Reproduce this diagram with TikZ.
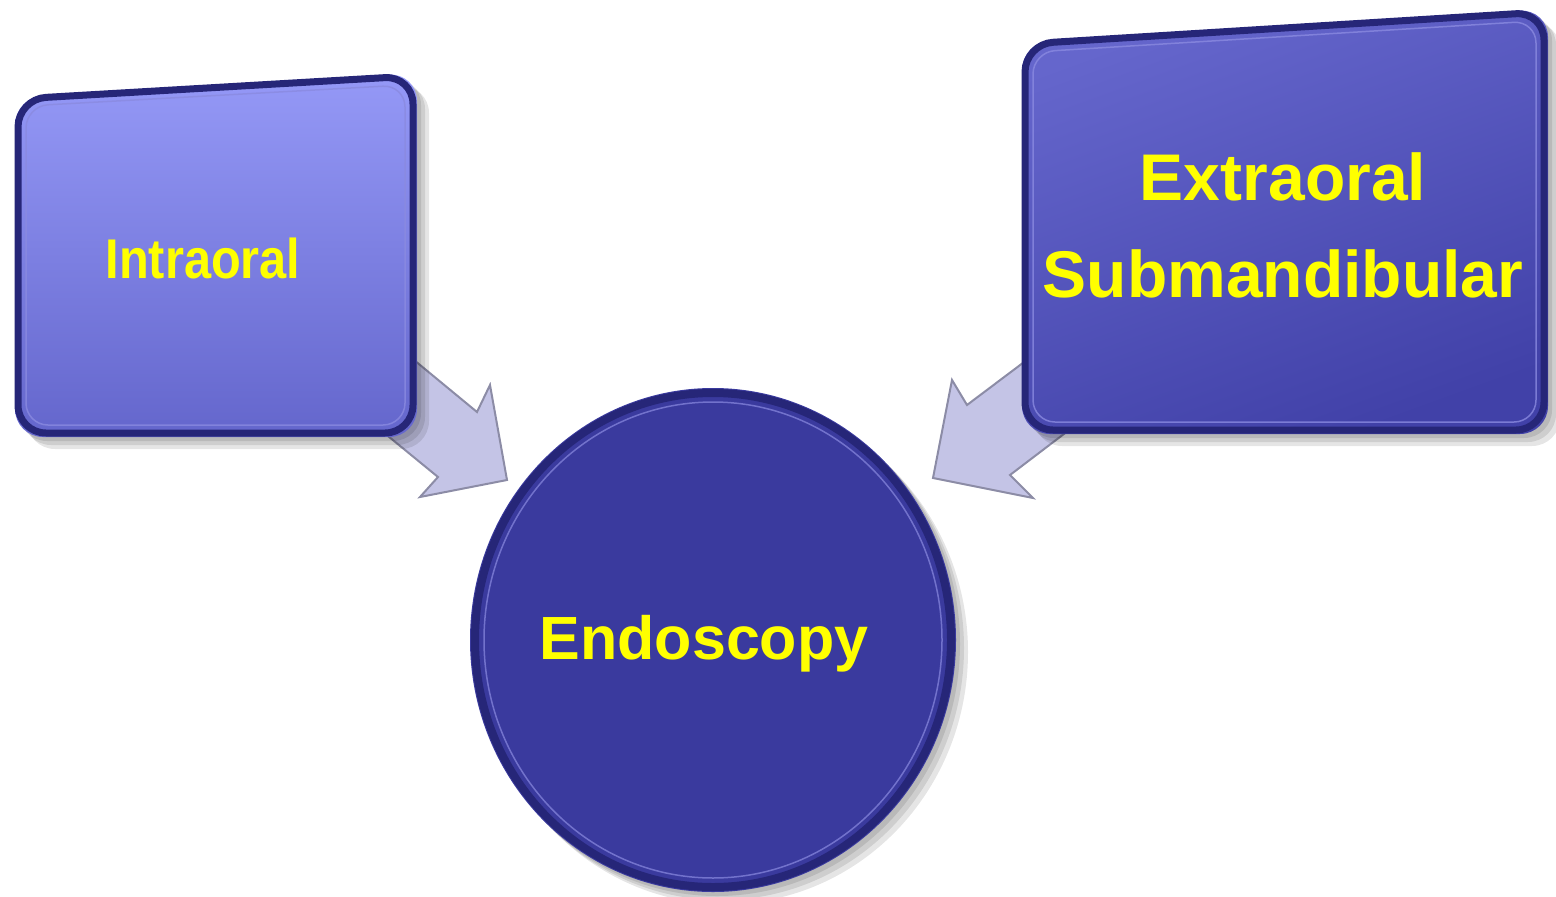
\documentclass[tikz,border=0pt]{standalone}
\usepackage{fontspec}
\setmainfont{Liberation Sans}
\definecolor{lboxtop}{HTML}{9599F7}
\definecolor{lboxbot}{HTML}{6466CC}
\definecolor{rboxtop}{HTML}{6566CC}
\definecolor{rboxbot}{HTML}{4141A8}
\definecolor{ballfill}{HTML}{3A3A9E}
\definecolor{rimblue}{HTML}{262678}
\definecolor{rimlight}{HTML}{8A8AE0}
\definecolor{arrowfill}{HTML}{C4C4E6}
\definecolor{arrowedge}{HTML}{8C8CA6}
\definecolor{labelyellow}{HTML}{FFFF00}
\begin{document}
\begin{tikzpicture}[x=1pt,y=-1pt,
  lbl/.style={text=labelyellow, font=\bfseries\fontsize{66}{97}\selectfont, align=center, inner sep=0pt},
  boxrim/.style={draw=rimblue, line width=7pt, rounded corners=28pt},
  boxhi/.style={draw=rimlight, line width=1.5pt, rounded corners=22pt, opacity=0.8},
  shade1/.style={fill=black, opacity=0.10},
  blockarrow/.style={fill=arrowfill, draw=arrowedge, line width=2pt, line join=miter}
]
\useasboundingbox (0,0) rectangle (1556,897);

% ---- block arrows (behind everything) ----
\path[blockarrow] (374,327) -- (477,412) -- (490,385) -- (507,480) -- (420,497) -- (438,477) -- (344,400) -- cycle;
\path[blockarrow] (1060,335) -- (967,405) -- (952,380) -- (933,478) -- (1033,498) -- (1010,475) -- (1098,408) -- cycle;

% ---- left box ----
\foreach \s in {4,8,12}{
  \path[shade1, rounded corners=28pt, shift={(\s,\s)}] (15,97) -- (417,73) -- (417,437) -- (15,437) -- cycle;
}
\shade[top color=lboxtop, bottom color=lboxbot, rounded corners=28pt] (15,97) -- (417,73) -- (417,437) -- (15,437) -- cycle;
\path[boxrim] (18,99) -- (413,76) -- (413,433) -- (18,433) -- cycle;
\path[boxhi] (26,106) -- (405,85) -- (405,425) -- (26,425) -- cycle;
\node[lbl, font=\bfseries\fontsize{56}{60}\selectfont, xscale=0.87] (intra) at (203,258) {Intraoral};

% ---- right box ----
\foreach \s in {4,8,12}{
  \path[shade1, rounded corners=28pt, shift={(\s,\s)}] (1022,42) -- (1548,9) -- (1548,434) -- (1022,434) -- cycle;
}
\shade[top color=rboxtop, bottom color=rboxbot, shading angle=20, rounded corners=28pt] (1022,42) -- (1548,9) -- (1548,434) -- (1022,434) -- cycle;
\path[boxrim] (1025,44) -- (1544,12) -- (1544,430) -- (1025,430) -- cycle;
\path[boxhi] (1033,52) -- (1536,21) -- (1536,422) -- (1033,422) -- cycle;
\node[lbl] (extra) at (1283,225) {Extraoral\\Submandibular};

% ---- circle ----
\foreach \s in {4,8,12}{
  \path[shade1] (713+\s,640+\s) ellipse [x radius=243, y radius=252];
}
\path[fill=ballfill] (713,640) ellipse [x radius=243, y radius=252];
\path[draw=rimblue, line width=8pt] (713,640) ellipse [x radius=238, y radius=247];
\path[draw=rimlight, line width=1.5pt, opacity=0.7] (713,640) ellipse [x radius=229, y radius=238];
\node[lbl, font=\bfseries\fontsize{61}{70}\selectfont] (endo) at (704,644) {Endoscopy};
\end{tikzpicture}
\end{document}
